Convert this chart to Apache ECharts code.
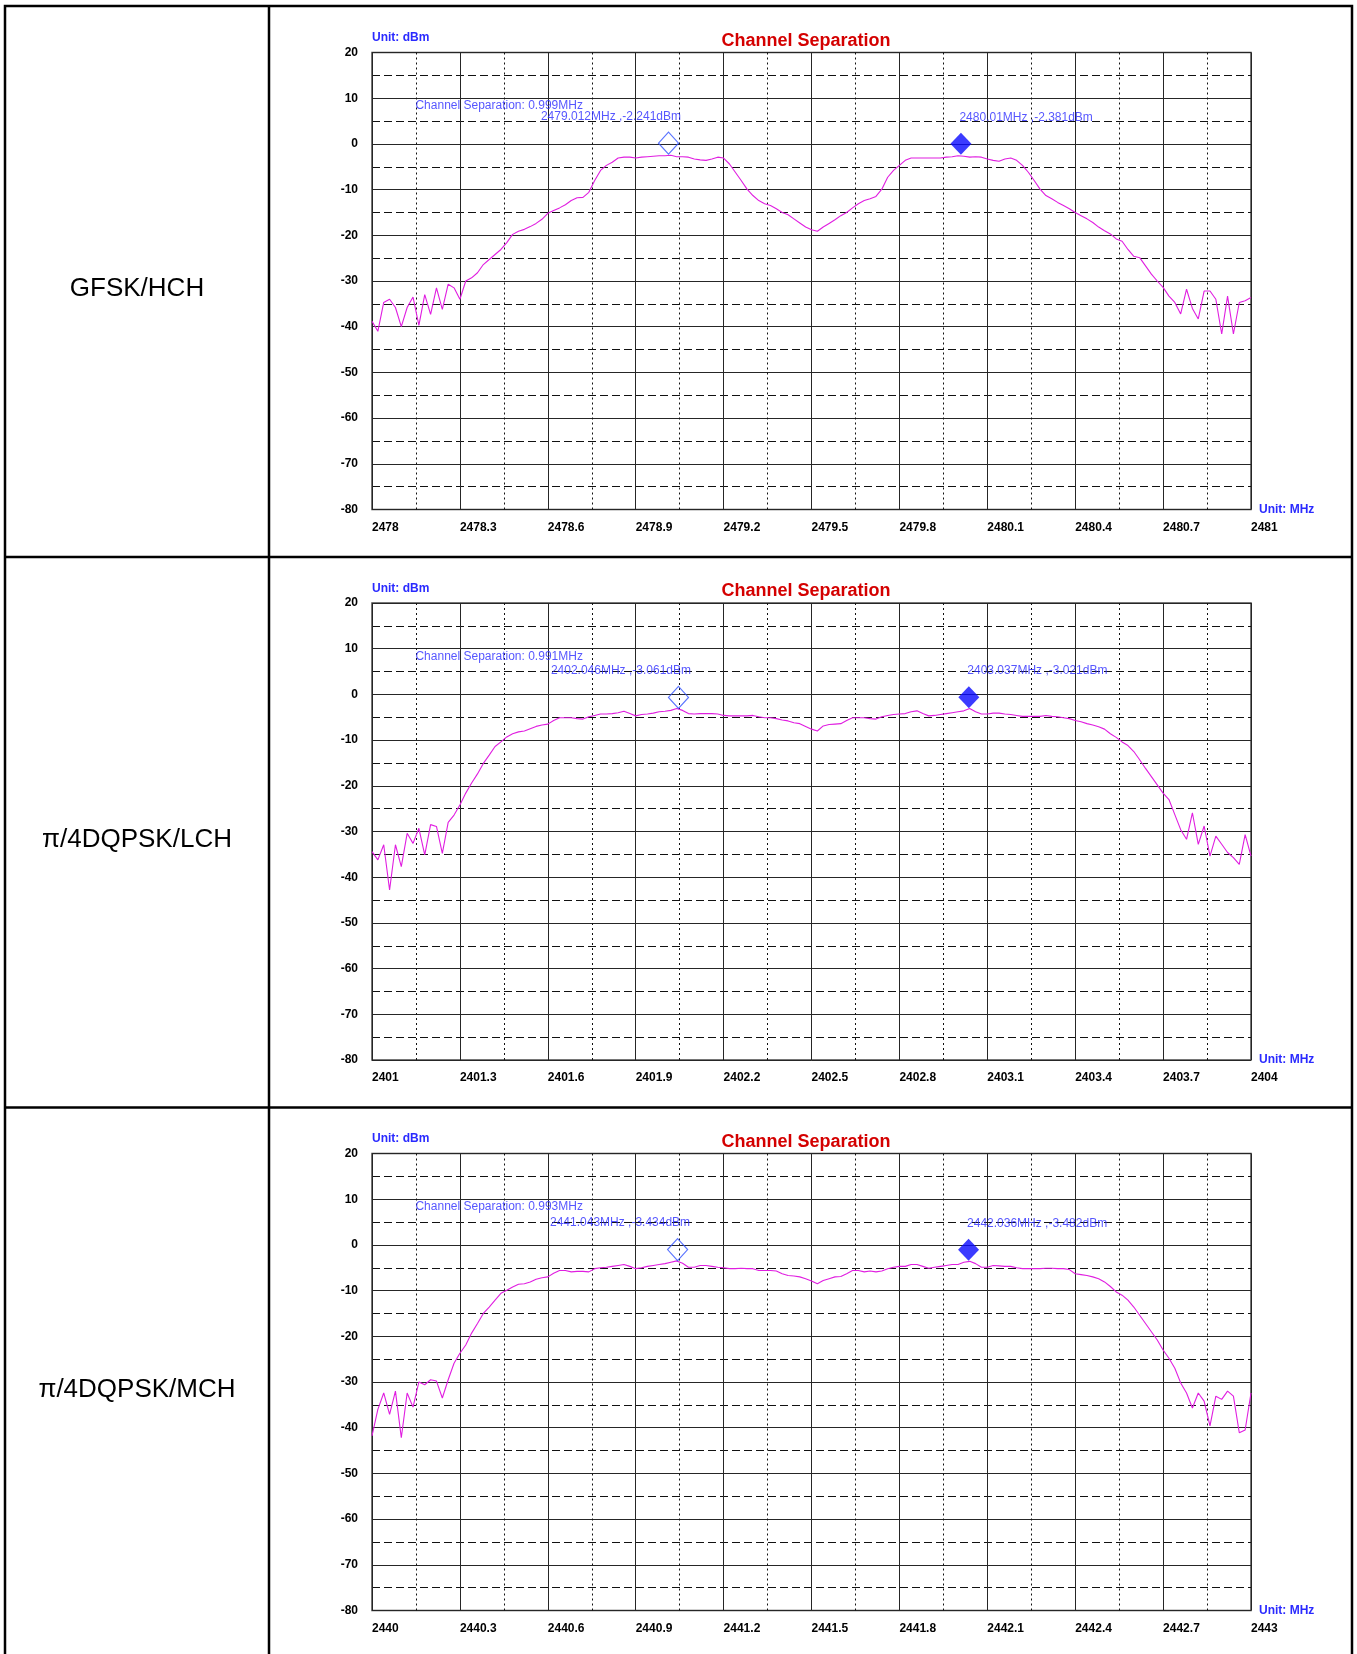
<!DOCTYPE html>
<html><head><meta charset="utf-8">
<script src="https://cdn.jsdelivr.net/npm/echarts@6/dist/echarts.min.js"></script>
<style>html,body{margin:0;padding:0;background:#fff;}#c{width:1357px;height:1654px;}</style>
</head><body><div id="c"></div>
<script>
// ---------- data ----------
const ROW_LABELS = ['GFSK/HCH', 'π/4DQPSK/LCH', 'π/4DQPSK/MCH'];
const START_FREQS = [2478, 2401, 2440];
const SPAN_MHZ = 3;
const STEP_MHZ = 0.02;
const X_TICK_STEP = 0.3;
const Y_MIN = -80, Y_MAX = 20, Y_STEP = 10;
const CHART_TITLE = 'Channel Separation';
const Y_UNIT = 'Unit: dBm';
const X_UNIT = 'Unit: MHz';

const TRACE_GFSK_HCH = [
-38.8,-41,-34.7,-34,-35.8,-40,-35.8,-33.5,-39.7,-33,
-37.3,-31.5,-36.2,-30.7,-31.5,-34,-30,-29.3,-28.2,-26.4,
-25.3,-24.2,-23.1,-21.6,-19.8,-19.1,-18.7,-18.1,-17.4,-16.5,
-15.2,-14.6,-14,-13.3,-12.4,-11.8,-11.7,-10.6,-8,-5.8,
-4.7,-4,-3.1,-2.9,-2.9,-3.1,-2.9,-2.8,-2.7,-2.6,
-2.6,-2.5,-2.8,-2.8,-2.9,-3.3,-3.5,-3.6,-3.3,-2.9,
-3.1,-4.4,-6.2,-8,-9.9,-11.3,-12.4,-13.1,-13.5,-14.2,
-15,-15.5,-16.4,-17.3,-18.2,-18.8,-19.1,-18.2,-17.4,-16.6,
-15.7,-15,-14,-13.1,-12.4,-12,-11.5,-9.9,-7.3,-5.8,
-4.7,-3.6,-3.1,-3.1,-3.1,-3.1,-3.1,-3.1,-2.9,-2.8,
-2.6,-2.7,-2.9,-2.8,-2.9,-3.3,-3.6,-3.8,-3.3,-3.1,
-3.6,-4.7,-6.2,-8,-9.9,-11.3,-12,-12.8,-13.5,-14.2,
-15,-15.7,-16.4,-17.2,-18.2,-19,-19.7,-20.8,-21.3,-23.1,
-24.6,-24.9,-26.7,-28.5,-30,-31.4,-33.3,-34.7,-37.2,-31.8,
-36,-38.3,-32.2,-32.2,-34,-41.6,-33.3,-41.6,-34.7,-34.3,
-33.6];

const TRACE_DQPSK_LCH = [
-34.4,-36.2,-32.9,-42.8,-32.9,-37.7,-30.4,-32.6,-29.3,-35.1,
-28.5,-28.9,-34.8,-28,-26.4,-24.2,-21.6,-19.4,-17.4,-15.1,
-13.3,-11.4,-10.4,-9.3,-8.6,-8.2,-8,-7.5,-7,-6.7,
-6.5,-5.7,-5.1,-5.1,-5.1,-5.3,-5.4,-4.9,-4.6,-4.3,
-4.3,-4.2,-4,-3.7,-4.2,-4.7,-4.4,-4.3,-4.1,-3.8,
-3.7,-3.5,-3.1,-3.5,-4.2,-4.3,-4.2,-4.2,-4.2,-4.3,
-4.6,-4.7,-4.7,-4.7,-4.7,-4.6,-4.9,-5.1,-5.1,-5.3,
-5.6,-5.8,-6.2,-6.4,-7,-7.6,-8,-6.9,-6.6,-6.5,
-6.4,-5.7,-5.1,-5.1,-5.1,-5.3,-5.4,-4.9,-4.6,-4.4,
-4.3,-4.2,-3.8,-3.6,-4.2,-4.7,-4.6,-4.4,-4.2,-4,
-3.8,-3.6,-3.1,-3.8,-4.3,-4.3,-4.1,-4.1,-4.3,-4.4,
-4.6,-4.8,-4.8,-4.8,-4.8,-4.6,-4.8,-4.9,-5.1,-5.3,
-5.7,-6,-6.4,-6.7,-7.1,-7.6,-8.6,-9.4,-10.4,-11.2,
-12.5,-14.3,-16.2,-18,-19.8,-21.6,-23,-26.3,-29.6,-31.7,
-25.9,-32.8,-28.8,-35.4,-31,-32.8,-34.6,-35.7,-37.2,-30.7,
-35.4];

const TRACE_DQPSK_MCH = [
-41.8,-36,-32.4,-37.1,-32,-42.2,-32.4,-35.5,-30,-30.6,
-29.5,-29.8,-33.5,-29.5,-25.9,-23.7,-21.9,-19.3,-17.2,-15,
-13.6,-12.1,-10.6,-9.9,-9.2,-8.6,-8.5,-8.1,-7.5,-7.2,
-7,-6.2,-5.6,-5.6,-5.9,-5.8,-5.8,-5.9,-5.2,-5,
-4.9,-4.7,-4.5,-4.3,-4.7,-5.2,-5,-4.7,-4.5,-4.3,
-4.1,-3.8,-3.5,-4,-4.9,-4.9,-4.5,-4.5,-4.7,-4.9,
-5,-5.2,-5.2,-5.1,-5.2,-5.2,-5.6,-5.6,-5.6,-5.7,
-6.3,-6.7,-6.8,-7,-7.4,-7.9,-8.5,-7.8,-7.4,-7,
-6.9,-6.3,-5.6,-5.6,-5.9,-5.7,-5.9,-5.7,-5.2,-4.9,
-4.7,-4.7,-4.3,-4.3,-4.7,-5.1,-4.9,-4.7,-4.5,-4.3,
-4.3,-3.8,-3.6,-4.1,-4.9,-4.9,-4.5,-4.6,-4.7,-4.7,
-5,-5.2,-5.2,-5.2,-5.2,-5.1,-5.1,-5.2,-5.2,-5.4,
-6.3,-6.5,-6.7,-7,-7.4,-8.1,-9.1,-10.3,-11,-12.1,
-13.6,-15.4,-17.2,-19,-20.8,-23,-24.8,-27,-30.2,-32.4,
-35.7,-32.4,-34.2,-39.6,-33.1,-33.8,-32,-33.1,-41.1,-40.5,
-32.4];

const MARKERS_GFSK_HCH = [[2479.012, -2.241], [2480.01, -2.381]];
const MARKERS_DQPSK_LCH = [[2402.046, -3.061], [2403.037, -3.021]];
const MARKERS_DQPSK_MCH = [[2441.043, -3.434], [2442.036, -3.482]];
const SEPARATIONS_MHZ = [0.999, 0.991, 0.993];

const TRACES = [TRACE_GFSK_HCH, TRACE_DQPSK_LCH, TRACE_DQPSK_MCH];
const MARKERS = [MARKERS_GFSK_HCH, MARKERS_DQPSK_LCH, MARKERS_DQPSK_MCH];

// ---------- layout / style ----------
const FONT = 'Arial, "Liberation Sans", sans-serif';
const GRID_LEFT = 372, GRID_W = 879, GRID_H = 457, GRID_TOP0 = 52.5, ROW_PITCH = 550.5;
const TRACE_COLOR = '#e01ee0';
const ANN_COLOR = '#2c2cff';

const grids = [], xAxes = [], yAxes = [], series = [], graphics = [];

// table
graphics.push({type:'rect', shape:{x:5, y:6, width:1347, height:1720}, style:{fill:'none', stroke:'#000', lineWidth:2.5}, silent:true});
graphics.push({type:'line', shape:{x1:269, y1:6, x2:269, y2:1700}, style:{stroke:'#000', lineWidth:2.5}, silent:true});
graphics.push({type:'line', shape:{x1:5, y1:557, x2:1352, y2:557}, style:{stroke:'#000', lineWidth:2.5}, silent:true});
graphics.push({type:'line', shape:{x1:5, y1:1107.5, x2:1352, y2:1107.5}, style:{stroke:'#000', lineWidth:2.5}, silent:true});

for (let k = 0; k < 3; k++) {
  const top = GRID_TOP0 + ROW_PITCH * k;
  const start = START_FREQS[k];
  grids.push({left: GRID_LEFT, top: top, width: GRID_W, height: GRID_H, show: true,
    borderColor: '#4a4a4a', borderWidth: 1.5, containLabel: false, outerBoundsMode: 'none'});
  xAxes.push({
    gridIndex: k, type: 'value', min: 0, max: SPAN_MHZ, interval: X_TICK_STEP,
    axisLine: {show: false}, axisTick: {show: false},
    axisLabel: {show: true, margin: 12, align: 'left', color: '#000', fontSize: 12, fontWeight: 'bold', fontFamily: FONT,
      showMinLabel: true, showMaxLabel: true,
      formatter: v => String(Math.round((start + v) * 10) / 10)},
    splitLine: {show: true, lineStyle: {color: '#262626', width: 1}},
    minorTick: {show: false, splitNumber: 2},
    minorSplitLine: {show: true, lineStyle: {color: '#111', width: 1, type: [2, 3]}}
  });
  yAxes.push({
    gridIndex: k, type: 'value', min: Y_MIN, max: Y_MAX, interval: Y_STEP,
    axisLine: {show: false}, axisTick: {show: false},
    axisLabel: {show: true, margin: 14, color: '#000', fontSize: 12, fontWeight: 'bold', fontFamily: FONT,
      padding: [7, 0, 0, 0]},
    splitLine: {show: true, lineStyle: {color: '#262626', width: 1}},
    minorTick: {show: false, splitNumber: 2},
    minorSplitLine: {show: true, lineStyle: {color: '#111', width: 1, type: [8, 4]}}
  });

  series.push({
    type: 'line', xAxisIndex: k, yAxisIndex: k, showSymbol: false, symbol: 'none',
    data: TRACES[k].map((v, i) => [i * STEP_MHZ, v]),
    lineStyle: {color: TRACE_COLOR, width: 1.1}, clip: true, z: 3, animation: false
  });
  const m = MARKERS[k];
  series.push({
    type: 'scatter', xAxisIndex: k, yAxisIndex: k, symbol: 'diamond', symbolSize: [20, 22], symbolOffset: [0, -11],
    data: [[m[0][0] - start, m[0][1]]],
    itemStyle: {color: 'rgba(255,255,255,0)', borderColor: '#3050ff', borderWidth: 1.2}, z: 5, animation: false
  });
  series.push({
    type: 'scatter', xAxisIndex: k, yAxisIndex: k, symbol: 'diamond', symbolSize: [21, 22], symbolOffset: [0, -11],
    data: [[m[1][0] - start, m[1][1]]],
    itemStyle: {color: '#0a0aff'}, z: 5, animation: false
  });
  // marker readouts
  series.push({
    type: 'scatter', xAxisIndex: k, yAxisIndex: k, symbolSize: 1, itemStyle: {color: 'rgba(0,0,0,0)'},
    z: 6, animation: false, silent: true,
    data: [
      {value: [m[0][0] - start, m[0][1]], label: {show: true, position: [0, 0], align: 'right', verticalAlign: 'middle', offset: [13, -37],
        formatter: m[0][0] + 'MHz ,' + m[0][1] + 'dBm', color: ANN_COLOR, fontSize: 12, fontFamily: FONT}},
      {value: [m[1][0] - start, m[1][1]], label: {show: true, position: [0, 0], align: 'left', verticalAlign: 'middle', offset: [-1, -37],
        formatter: m[1][0] + 'MHz ,' + m[1][1] + 'dBm', color: ANN_COLOR, fontSize: 12, fontFamily: FONT}}
    ]
  });
  // channel separation readout
  series.push({
    type: 'scatter', xAxisIndex: k, yAxisIndex: k, symbolSize: 1, itemStyle: {color: 'rgba(0,0,0,0)'},
    z: 6, animation: false, silent: true,
    data: [{value: [0.15, 8.2], label: {show: true, position: [0, 0], align: 'left', verticalAlign: 'middle', offset: [0, 0],
      formatter: 'Channel Separation: ' + SEPARATIONS_MHZ[k] + 'MHz', color: ANN_COLOR, fontSize: 12, fontFamily: FONT}}]
  });

  // texts
  graphics.push({type: 'text', x: 806, y: top - 11.5, style: {text: CHART_TITLE, fill: '#d40000', font: 'bold 18px ' + FONT, textAlign: 'center', textVerticalAlign: 'middle'}, silent: true});
  graphics.push({type: 'text', x: GRID_LEFT, y: top - 14.5, style: {text: Y_UNIT, fill: '#2a2aff', font: 'bold 12px ' + FONT, textAlign: 'left', textVerticalAlign: 'middle'}, silent: true});
  graphics.push({type: 'text', x: 1259, y: top + GRID_H, style: {text: X_UNIT, fill: '#2a2aff', font: 'bold 12px ' + FONT, textAlign: 'left', textVerticalAlign: 'middle'}, silent: true});
  graphics.push({type: 'text', x: 137, y: 289 + ROW_PITCH * k, style: {text: ROW_LABELS[k], fill: '#000', font: '26px ' + FONT, textAlign: 'center', textVerticalAlign: 'middle'}, silent: true});
}

const chart = echarts.init(document.getElementById('c'), null, {renderer: 'canvas'});
chart.setOption({
  backgroundColor: '#fff',
  animation: false,
  grid: grids, xAxis: xAxes, yAxis: yAxes, series: series,
  graphic: {elements: graphics}
});
</script></body></html>
